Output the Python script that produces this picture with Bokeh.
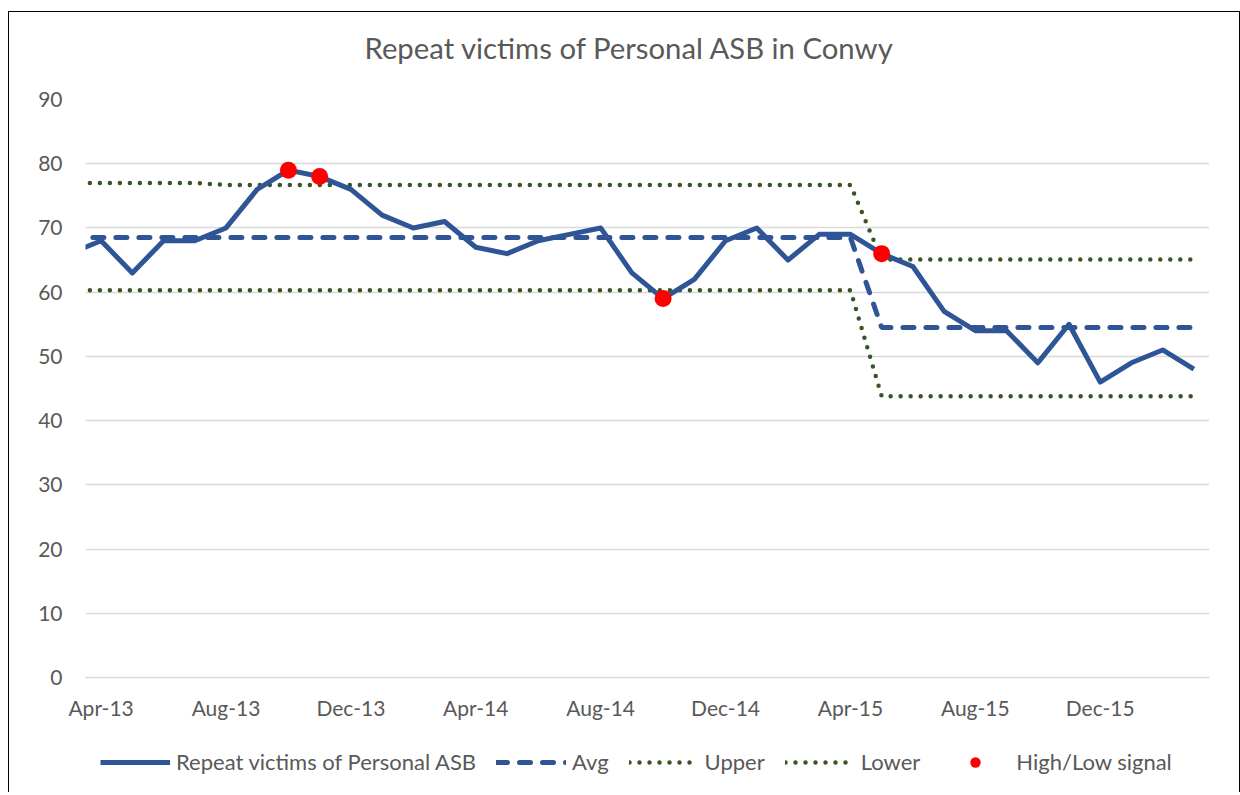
from bokeh.plotting import figure
from bokeh.layouts import column
from bokeh.models import ColumnDataSource, FixedTicker, Legend, LegendItem, Title
from bokeh.embed import file_html
from bokeh.resources import INLINE

# ---- data -------------------------------------------------------------
months = ["Mar-13", "Apr-13", "May-13", "Jun-13", "Jul-13", "Aug-13", "Sep-13", "Oct-13",
          "Nov-13", "Dec-13", "Jan-14", "Feb-14", "Mar-14", "Apr-14", "May-14", "Jun-14",
          "Jul-14", "Aug-14", "Sep-14", "Oct-14", "Nov-14", "Dec-14", "Jan-15", "Feb-15",
          "Mar-15", "Apr-15", "May-15", "Jun-15", "Jul-15", "Aug-15", "Sep-15", "Oct-15",
          "Nov-15", "Dec-15", "Jan-16", "Feb-16", "Mar-16"]
victims = [66, 68, 63, 68, 68, 70, 76, 79, 78, 76, 72, 70, 71, 67, 66, 68, 69, 70, 63,
           59, 62, 68, 70, 65, 69, 69, 66, 64, 57, 54, 54, 49, 55, 46, 49, 51, 48]
avg = [68.5] * 26 + [54.5] * 11
upper = [77.0] * 5 + [76.7] * 21 + [65.1] * 11
lower = [60.3] * 26 + [43.8] * 11
signal = [None] * 37
for m, v in [("Oct-13", 79), ("Nov-13", 78), ("Oct-14", 59), ("May-15", 66)]:
    signal[months.index(m)] = v
tick_labels = ["Apr-13", "Aug-13", "Dec-13", "Apr-14", "Aug-14", "Dec-14", "Apr-15", "Aug-15", "Dec-15"]
y_ticks = [0, 10, 20, 30, 40, 50, 60, 70, 80, 90]
series_names = ["Repeat victims of Personal ASB", "Avg", "Upper", "Lower", "High/Low signal"]

# position index: Apr-13 = 0 (Mar-13 lies just left of the plot area)
xpos = [i - 1 for i in range(len(months))]
sig_x = [x for x, s in zip(xpos, signal) if s is not None]
sig_y = [s for s in signal if s is not None]

FONT = "Lato"
GREY = "#595959"
BLUE = "#2F5597"
GREEN = "#375623"

STYLE_V = dict(line_color=BLUE, line_width=5, line_join="round")
STYLE_AVG = dict(line_color=BLUE, line_width=5, line_dash="11 12", line_cap="round")
STYLE_LIM = dict(line_color=GREEN, line_width=4.5, line_dash="0 10", line_cap="round")
STYLE_SIG = dict(fill_color="#FF0000", line_color=None)

src = ColumnDataSource(dict(x=xpos, v=victims, avg=avg, up=upper, lo=lower))
sig_src = ColumnDataSource(dict(x=sig_x, y=sig_y))

# ---- main chart -------------------------------------------------------
p = figure(frame_width=1124, frame_height=578, x_range=(-0.5, 35.5), y_range=(0, 90),
           output_backend="svg", toolbar_location=None,
           min_border_left=76, min_border_right=30, min_border_top=87, min_border_bottom=45)
p.outline_line_color = None
p.background_fill_color = "white"
p.border_fill_color = "white"

# spacer between plot area and title (closest to the frame)
p.add_layout(Title(text=" ", text_font_size="1px", standoff=32), "above")
p.title.text = "Repeat victims of Personal ASB in Conwy"
p.title.align = "left"
p.title.offset = 279
p.title.standoff = 0
p.title.text_font = FONT
p.title.text_font_size = "29.3px"
p.title.text_font_style = "normal"
p.title.text_color = GREY

p.xgrid.grid_line_color = None
p.ygrid.grid_line_color = "#D9D9D9"
p.ygrid.grid_line_width = 1.3
p.ygrid.ticker = FixedTicker(ticks=y_ticks)

p.yaxis.ticker = FixedTicker(ticks=y_ticks)
p.yaxis.axis_line_color = None
p.yaxis.major_tick_line_color = None
p.yaxis.minor_tick_line_color = None
p.yaxis.major_tick_out = 0
p.yaxis.major_tick_in = 0
p.yaxis.major_label_standoff = 23
p.yaxis.major_label_text_font = FONT
p.yaxis.major_label_text_font_size = "21px"
p.yaxis.major_label_text_color = GREY

tick_pos = [xpos[months.index(t)] for t in tick_labels]
p.xaxis.ticker = FixedTicker(ticks=tick_pos)
p.xaxis.major_label_overrides = {tp: t for tp, t in zip(tick_pos, tick_labels)}
p.xaxis.axis_line_color = "#D9D9D9"
p.xaxis.axis_line_width = 1.3
p.xaxis.major_tick_line_color = None
p.xaxis.minor_tick_line_color = None
p.xaxis.major_tick_out = 0
p.xaxis.major_tick_in = 0
p.xaxis.major_label_standoff = 17
p.xaxis.major_label_text_font = FONT
p.xaxis.major_label_text_font_size = "21px"
p.xaxis.major_label_text_color = GREY

p.line("x", "up", source=src, **STYLE_LIM)
p.line("x", "lo", source=src, **STYLE_LIM)
p.line("x", "avg", source=src, **STYLE_AVG)
p.line("x", "v", source=src, **STYLE_V)
p.scatter("x", "y", source=sig_src, size=17, **STYLE_SIG)

# ---- legend strip: same series and styles, view window kept off the data --
lg = figure(width=1230, height=70, x_range=(-0.5, 35.5), y_range=(1000, 1001),
            x_axis_type=None, y_axis_type=None, output_backend="svg",
            toolbar_location=None, min_border=0)
lg.outline_line_color = None
lg.grid.visible = False
lg.background_fill_color = "white"
lg.border_fill_color = "white"
l_v = lg.line("x", "v", source=src, **STYLE_V)
l_avg = lg.line("x", "avg", source=src, **STYLE_AVG)
l_up = lg.line("x", "up", source=src, **STYLE_LIM)
l_lo = lg.line("x", "lo", source=src, **STYLE_LIM)
l_sig = lg.scatter("x", "y", source=sig_src, size=17, **STYLE_SIG)

legend = Legend(items=[LegendItem(label=n, renderers=[r]) for n, r in
                       zip(series_names, [l_v, l_avg, l_up, l_lo, l_sig])],
                orientation="horizontal", location=(15, 17), glyph_width=70, glyph_height=26,
                label_height=26, label_standoff=6, spacing=20, padding=0, margin=0,
                border_line_color=None, background_fill_alpha=0, label_text_font=FONT,
                label_text_font_size="22px", label_text_color=GREY)
lg.add_layout(legend)

layout = column(p, lg, spacing=0)
layout.styles = {"margin-left": "8px", "margin-top": "11px",
                 "border-top": "1px solid #000000", "border-left": "1px solid #000000",
                 "border-right": "1px solid #000000"}

open("out.html", "w").write(file_html(layout, INLINE))
